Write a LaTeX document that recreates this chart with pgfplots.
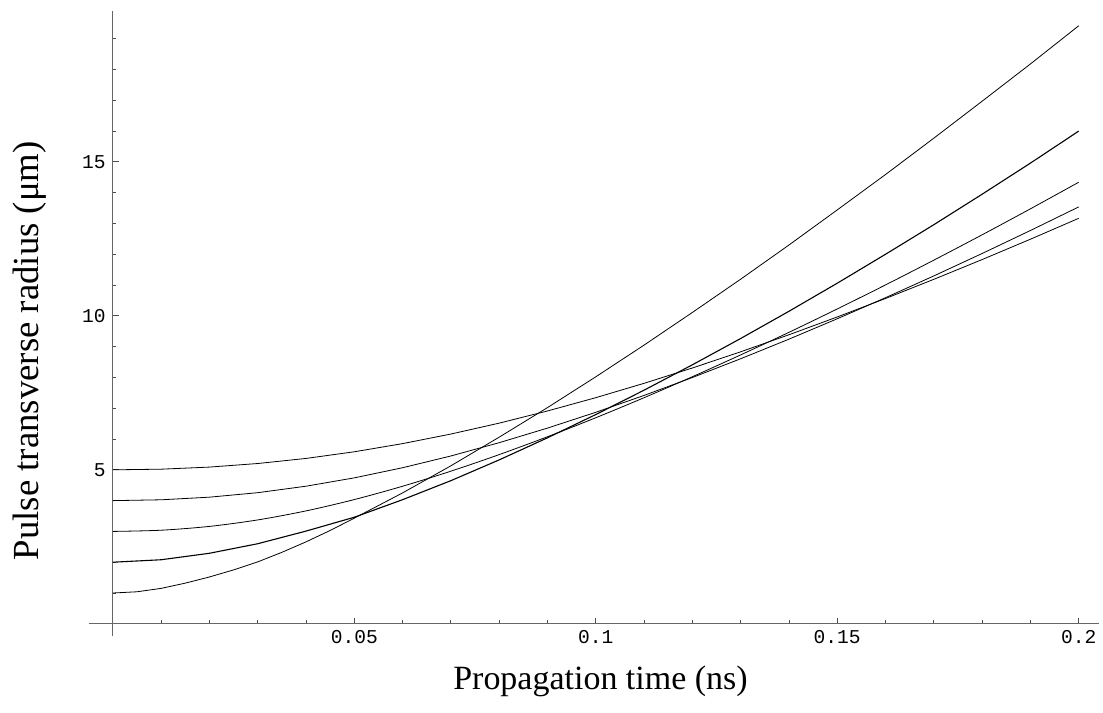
\documentclass[border=0pt]{standalone}
\usepackage{pgfplots}
\pgfplotsset{compat=1.18}
\usepackage{fontspec}
\setmainfont{Liberation Serif}
\newfontfamily\tickfont{Liberation Mono}

\begin{document}
\begin{tikzpicture}
\begin{axis}[
    scale only axis,
    width=505.65pt, height=312.85pt,
    axis lines=middle,
    axis line style={-, draw=black!60, line width=0.5pt},
    xmin=-0.005, xmax=0.2042,
    ymin=-0.4, ymax=19.9,
    xtick={0.05,0.1,0.15,0.2},
    xticklabels={0.05,0.1,0.15,0.2},
    ytick={5,10,15},
    yticklabels={5,10,15},
    minor xtick={0.01,0.02,0.03,0.04,0.06,0.07,0.08,0.09,0.11,0.12,0.13,0.14,0.16,0.17,0.18,0.19},
    minor ytick={1,2,3,4,6,7,8,9,11,12,13,14,16,17,18,19},
    scaled x ticks=false,
    tick align=inside,
    major tick length=3pt,
    minor tick length=1.8pt,
    every tick/.style={black!70, line width=0.4pt},
    ticklabel style={font=\tickfont\fontsize{9.8}{11}\selectfont},
    xlabel={Propagation time (ns)},
    ylabel={Pulse transverse radius (μm)},
    xlabel style={at={(axis description cs:0.5066,-0.072)}, anchor=center, font=\fontsize{17}{20}\selectfont},
    ylabel style={at={(axis description cs:-0.058,0.4566)}, anchor=center, rotate=90, font=\fontsize{18.4}{21}\selectfont},
    clip=false,
    cycle list={{black, line width=0.55pt, smooth, no markers}},
]
% w0 = 1
\addplot coordinates {(0,1) (0.005,1.04) (0.01,1.15) (0.015,1.32) (0.02,1.52) (0.025,1.75) (0.03,2.01) (0.035,2.32) (0.04,2.66) (0.045,3.03) (0.05,3.43) (0.06,4.25) (0.07,5.13) (0.08,6.06) (0.09,7.02) (0.10,8.02) (0.11,9.05) (0.12,10.11) (0.13,11.19) (0.14,12.30) (0.15,13.44) (0.16,14.59) (0.17,15.77) (0.18,16.97) (0.19,18.18) (0.20,19.42)};
% w0 = 2
\addplot coordinates {(0,2) (0.01,2.08) (0.02,2.29) (0.03,2.60) (0.04,3.01) (0.05,3.46) (0.06,4.03) (0.07,4.648) (0.08,5.322) (0.09,6.039) (0.10,6.795) (0.11,7.586) (0.12,8.410) (0.13,9.264) (0.14,10.148) (0.15,11.06) (0.16,12.0) (0.17,12.96) (0.18,13.95) (0.19,14.96) (0.20,16.0)};
% w0 = 3
\addplot coordinates {(0,3) (0.01,3.039) (0.02,3.163) (0.03,3.373) (0.04,3.666) (0.05,4.034) (0.06,4.467) (0.07,4.956) (0.08,5.494) (0.09,6.074) (0.10,6.691) (0.11,7.342) (0.12,8.023) (0.13,8.732) (0.14,9.465) (0.15,10.224) (0.16,11.005) (0.17,11.809) (0.18,12.632) (0.19,13.476) (0.20,14.339)};
% w0 = 4
\addplot coordinates {(0,4) (0.01,4.027) (0.02,4.112) (0.03,4.258) (0.04,4.468) (0.05,4.739) (0.06,5.068) (0.07,5.450) (0.08,5.881) (0.09,6.355) (0.10,6.868) (0.11,7.416) (0.12,7.997) (0.13,8.607) (0.14,9.243) (0.15,9.905) (0.16,10.590) (0.17,11.297) (0.18,12.025) (0.19,12.772) (0.20,13.538)};
% w0 = 5
\addplot coordinates {(0,5) (0.01,5.021) (0.02,5.089) (0.03,5.205) (0.04,5.370) (0.05,5.586) (0.06,5.851) (0.07,6.162) (0.08,6.516) (0.09,6.911) (0.10,7.343) (0.11,7.809) (0.12,8.307) (0.13,8.833) (0.14,9.386) (0.15,9.964) (0.16,10.564) (0.17,11.186) (0.18,11.828) (0.19,12.489) (0.20,13.168)};
\end{axis}
\path ([xshift=-44.35pt,yshift=-38.15pt]current axis.south west) rectangle ++(551.5pt,356.5pt);
\end{tikzpicture}
\end{document}
